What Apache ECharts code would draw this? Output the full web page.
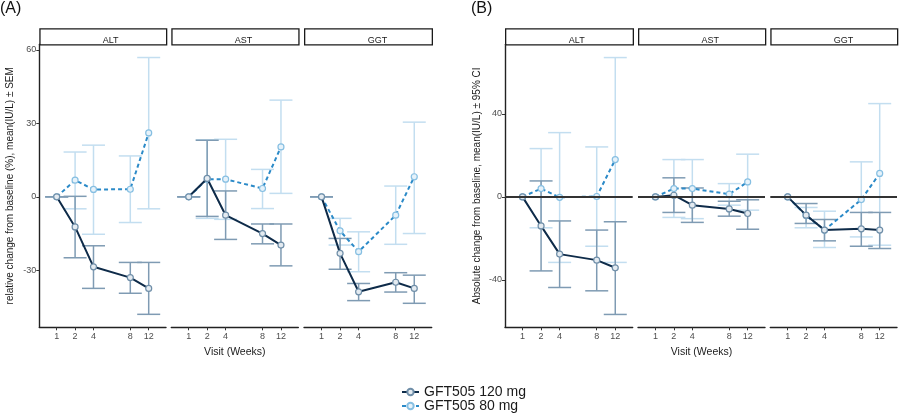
<!DOCTYPE html>
<html>
<head>
<meta charset="utf-8">
<script src="https://cdn.jsdelivr.net/npm/echarts@6/dist/echarts.min.js"></script>
<style>
html,body{margin:0;padding:0;background:#fff;}
#chart{width:900px;height:418px;}
</style>
</head>
<body>
<div id="chart"></div>
<script>
// ---- Data ----
const weekLabels = ['1', '2', '4', '8', '12'];
const weekPos = [1, 2, 3, 5, 6];           // position of each visit on the (uneven) visit axis
const analytes = ['ALT', 'AST', 'GGT'];
const seriesNames = ['GFT505 120 mg', 'GFT505 80 mg'];

// Panel (A): relative change (%), rows = [mean, lower, upper] per visit
const relALT120 = [[0,0,0],[-12.3,-24.9,0.2],[-28.6,-37.4,-20.0],[-33.0,-39.4,-26.8],[-37.4,-48.0,-26.8]];
const relALT80  = [[0,0,0],[6.8,-4.9,18.3],[3.0,-15.3,21.1],[3.1,-10.5,16.7],[26.1,-4.9,56.9]];
const relAST120 = [[0,0,0],[7.5,-8.0,23.1],[-7.5,-17.4,2.4],[-15.0,-19.2,-11.1],[-19.7,-28.2,-11.1]];
const relAST80  = [[0,0,0],[7.2,-8.8,23.3],[7.2,-9.2,23.5],[3.4,-4.8,11.2],[20.4,1.4,39.5]];
const relGGT120 = [[0,0,0],[-23.1,-29.6,-17.0],[-38.8,-42.4,-35.4],[-34.9,-38.9,-31.0],[-37.4,-43.5,-32.0]];
const relGGT80  = [[0,0,0],[-13.9,-19.7,-8.8],[-22.4,-30.6,-14.3],[-7.5,-19.4,4.4],[8.2,-15.0,30.5]];

// Panel (B): absolute change (IU/L), rows = [mean, lower, upper] per visit
const absALT120 = [[0,0,0],[-14.0,-35.7,7.7],[-27.6,-43.7,-11.6],[-30.5,-45.3,-16.0],[-34.2,-56.7,-12.0]];
const absALT80  = [[0,0,0],[4.0,-14.9,23.3],[-0.2,-31.6,31.0],[0.2,-23.8,24.1],[18.0,-31.6,67.2]];
const absAST120 = [[0,0,0],[0.8,-7.5,9.2],[-4.0,-12.3,4.3],[-5.8,-9.3,-2.1],[-8.0,-15.6,-1.4]];
const absAST80  = [[0,0,0],[4.0,-9.9,18.0],[4.0,-10.5,18.0],[1.3,-4.0,6.4],[7.2,-6.4,20.6]];
const absGGT120 = [[0,0,0],[-8.8,-12.8,-3.2],[-16.0,-21.2,-10.9],[-15.4,-23.8,-7.5],[-16.0,-24.9,-7.5]];
const absGGT80  = [[0,0,0],[-9.0,-14.9,-5.1],[-16.0,-24.4,-6.9],[-1.3,-19.3,16.9],[11.3,-23.3,45.0]];

const relTicks = [-30, 0, 30, 60];
const absTicks = [-40, 0, 40];

// ---- Styles / layout ----
const FONT = 'Liberation Sans, Arial, sans-serif';
const C120 = '#0e2b49', C120err = '#7f9bb3', C120mk = '#6f8ea8';
const C80 = '#2b8ac8', C80err = '#c3def0', C80mk = '#86bfe2';
const plotTop = 44.3, plotH = 283;
const facetsA = [{left:39.3,w:126.7},{left:171.3,w:127},{left:304,w:127.7}];
const facetsB = [{left:505,w:127.7},{left:638,w:127},{left:770.3,w:126.7}];

const panels = [
  {facets: facetsA, data: [[relALT120, relALT80],[relAST120, relAST80],[relGGT120, relGGT80]],
   min: -53.3, max: 62.3, ticks: relTicks, zeroLine: false,
   yName: 'relative change from baseline (%), mean(IU/L) \u00b1 SEM', nameGap: 24},
  {facets: facetsB, data: [[absALT120, absALT80],[absAST120, absAST80],[absGGT120, absGGT80]],
   min: -62.9, max: 73.6, ticks: absTicks, zeroLine: true,
   yName: 'Absolute change from baseline, mean(IU/L) \u00b1 95% CI', nameGap: 23}
];

function errRender(color) {
  return function (params, api) {
    const x = api.value(0), lo = api.value(1), hi = api.value(2);
    const p1 = api.coord([x, hi]);
    const p2 = api.coord([x, lo]);
    const hw = 11.5;
    const st = {stroke: color, lineWidth: 1.5, fill: null};
    return {type: 'group', children: [
      {type: 'line', shape: {x1: p1[0], y1: p1[1], x2: p2[0], y2: p2[1]}, style: st},
      {type: 'line', shape: {x1: p1[0]-hw, y1: p1[1], x2: p1[0]+hw, y2: p1[1]}, style: st},
      {type: 'line', shape: {x1: p2[0]-hw, y1: p2[1], x2: p2[0]+hw, y2: p2[1]}, style: st}
    ]};
  };
}

const grid = [], xAxis = [], yAxis = [], series = [], graphic = [];
let gi = 0;
panels.forEach(function (panel) {
  panel.facets.forEach(function (f, k) {
    grid.push({left: f.left, top: plotTop, width: f.w, height: plotH});
    xAxis.push({
      gridIndex: gi, type: 'value', min: 0.055, max: 6.94,
      splitLine: {show: false},
      axisLine: {show: true, onZero: false, lineStyle: {color: '#222', width: 1.4}},
      axisTick: {show: true, length: 3, lineStyle: {color: '#333'}, customValues: weekPos},
      axisLabel: {show: true, fontSize: 9, color: '#4d4d4d', fontFamily: FONT, margin: 5,
        customValues: weekPos,
        formatter: function (v) { const i = weekPos.indexOf(Math.round(v)); return i >= 0 ? weekLabels[i] : ''; }},
      name: k === 1 ? 'Visit (Weeks)' : '', nameLocation: 'middle', nameGap: 16,
      nameTextStyle: {fontSize: 10.5, color: '#1a1a1a', fontFamily: FONT}
    });
    yAxis.push({
      gridIndex: gi, type: 'value', min: panel.min, max: panel.max,
      show: k === 0,
      splitLine: {show: false},
      axisLine: {show: true, onZero: false, lineStyle: {color: '#222', width: 1.4}},
      axisTick: {show: true, length: 3, lineStyle: {color: '#333'}, customValues: panel.ticks},
      axisLabel: {fontSize: 9, color: '#4d4d4d', fontFamily: FONT, margin: 3, customValues: panel.ticks},
      name: k === 0 ? panel.yName : '', nameLocation: 'middle', nameGap: panel.nameGap, nameRotate: 90,
      nameTextStyle: {fontSize: 10, color: '#1a1a1a', fontFamily: FONT}
    });
    const pair = panel.data[k];
    // error bars
    series.push({type: 'custom', name: 'err80', xAxisIndex: gi, yAxisIndex: gi, z: 1,
      renderItem: errRender(C80err), encode: {x: 0, y: [1, 2]},
      data: pair[1].map(function (r, i) { return [weekPos[i], r[1], r[2]]; })});
    series.push({type: 'custom', name: 'err120', xAxisIndex: gi, yAxisIndex: gi, z: 2,
      renderItem: errRender(C120err), encode: {x: 0, y: [1, 2]},
      data: pair[0].map(function (r, i) { return [weekPos[i], r[1], r[2]]; })});
    // lines
    series.push({type: 'line', name: seriesNames[1], xAxisIndex: gi, yAxisIndex: gi, z: 3,
      symbol: 'circle', symbolSize: 6, showAllSymbol: true,
      lineStyle: {color: C80, width: 2, type: [4, 3]},
      itemStyle: {color: '#e6f2fa', borderColor: C80mk, borderWidth: 1.2},
      data: pair[1].map(function (r, i) { return [weekPos[i], r[0]]; }),
      markLine: panel.zeroLine ? {silent: true, symbol: 'none', label: {show: false},
        lineStyle: {color: '#333', width: 2.2, type: 'solid'}, data: [{yAxis: 0}]} : undefined
    });
    series.push({type: 'line', name: seriesNames[0], xAxisIndex: gi, yAxisIndex: gi, z: 4,
      symbol: 'circle', symbolSize: 6, showAllSymbol: true,
      lineStyle: {color: C120, width: 2, type: 'solid'},
      itemStyle: {color: '#e4ebf1', borderColor: C120mk, borderWidth: 1.2},
      data: pair[0].map(function (r, i) { return [weekPos[i], r[0]]; })
    });
    // facet strip
    graphic.push({type: 'rect', left: f.left, top: 28.3,
      shape: {width: f.w, height: 16}, style: {fill: '#fff', stroke: '#1a1a1a', lineWidth: 1.3}});
    graphic.push({type: 'text', left: f.left + f.w / 2, top: 36.3,
      style: {text: analytes[k], fontSize: 9, fill: '#1a1a1a', font: '9px ' + FONT,
        textAlign: 'center', textVerticalAlign: 'middle'}});
    gi++;
  });
});

graphic.push({type: 'text', left: 0, top: 1, style: {text: '(A)', font: '16px ' + FONT, fill: '#111'}});
graphic.push({type: 'text', left: 471, top: 1, style: {text: '(B)', font: '16px ' + FONT, fill: '#111'}});

const chart = echarts.init(document.getElementById('chart'), null, {renderer: 'canvas'});
chart.setOption({
  animation: false,
  backgroundColor: '#fff',
  textStyle: {fontFamily: FONT},
  grid: grid, xAxis: xAxis, yAxis: yAxis, series: series, graphic: graphic,
  legend: {data: seriesNames, orient: 'vertical', left: 401, top: 385, height: 40, padding: 0,
    itemWidth: 17, itemHeight: 8, itemGap: 0,
    textStyle: {fontSize: 14, color: '#1a1a1a', fontFamily: FONT}}
});
</script>
</body>
</html>
